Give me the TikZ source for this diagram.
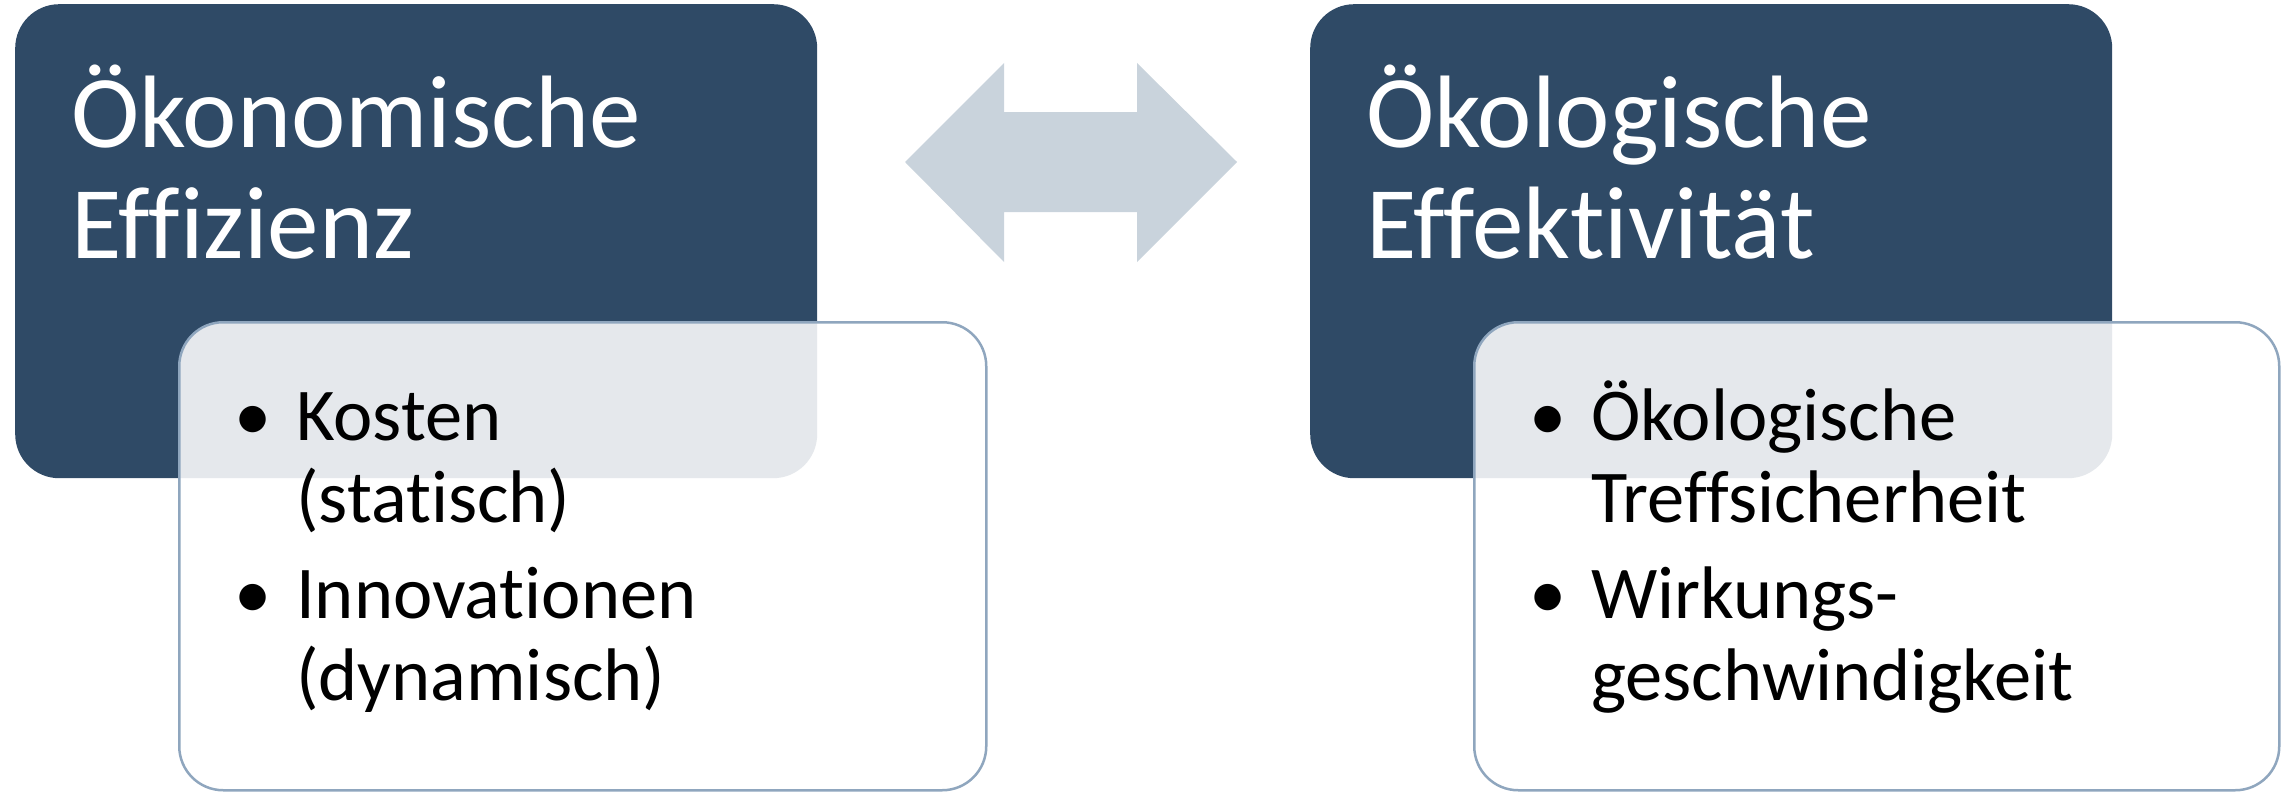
\documentclass[tikz,border=0pt]{standalone}
\usepackage{fontspec}
\setmainfont{Carlito}[Ligatures=CommonOff]
\usetikzlibrary{calc}

\definecolor{dunkelblau}{HTML}{2F4A66}
\definecolor{randblau}{HTML}{8FA6BE}
\definecolor{pfeilgrau}{HTML}{C9D3DC}

\newcommand{\punkt}{\noindent\llap{\textbullet\hspace{25pt}}}

\begin{document}
\begin{tikzpicture}[x=1pt,y=-1pt] %% tikz
		\tikzstyle{dunkel}=[rectangle,rounded corners=44pt,fill=dunkelblau,inner sep=0pt,anchor=north west]
		\tikzstyle{hell}=[rectangle,rounded corners=44pt,draw=randblau,line width=2.5pt,fill=white,fill opacity=0.88,draw opacity=1,inner sep=0pt,anchor=north west]
		\tikzstyle{titel}=[anchor=base west,inner sep=0pt,text=white,font=\fontsize{103}{111}\selectfont]
		\tikzstyle{liste}=[anchor=base west,inner sep=0pt,text=black,font=\fontsize{74.5}{82}\selectfont]
		%% page
		\useasboundingbox (0,0) rectangle (2287,792);
		%% double arrow
		\fill[pfeilgrau] (905,162) -- (1004,63) -- (1004,112) -- (1137,112) -- (1137,63)
			-- (1237,162) -- (1137,262) -- (1137,212) -- (1004,212) -- (1004,262) -- cycle;
		%% left pair
		\node[dunkel,minimum width=802pt,minimum height=474pt] (oekonBox) at (15,4) {};
		\node[titel] (oekonTitel) at (71,147) {\parbox[t]{760pt}{Ökonomische\\Effizienz}};
		\node[hell,minimum width=807pt,minimum height=468pt] (oekonListeBox) at (178,321) {};
		\node[liste] (oekonListe) at (296,440) {\parbox[t]{680pt}{\setlength{\parskip}{14pt}%
			\punkt Kosten\\(statisch)\par
			\punkt Innovationen\\(dynamisch)}};
		%% right pair
		\node[dunkel,minimum width=802pt,minimum height=474pt] (oekolBox) at (1310,4) {};
		\node[titel] (oekolTitel) at (1366,147) {\parbox[t]{760pt}{Ökologische\\Effektivität}};
		\node[hell,minimum width=805pt,minimum height=468pt] (oekolListeBox) at (1473,321) {};
		\node[liste] (oekolListe) at (1591,440) {\parbox[t]{680pt}{\setlength{\parskip}{14pt}%
			\punkt Ökologische\\Treffsicherheit\par
			\punkt Wirkungs-\\geschwindigkeit}};
	\end{tikzpicture}
\end{document}
